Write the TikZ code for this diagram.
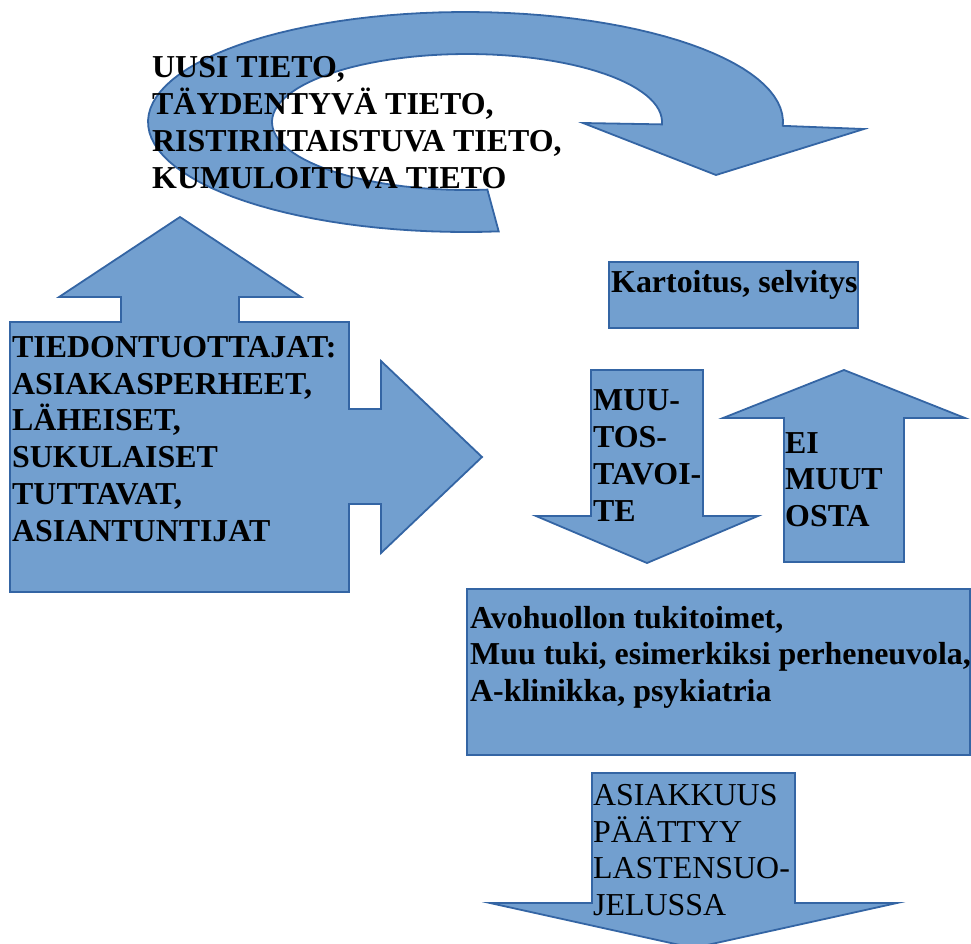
\documentclass[tikz,border=0pt]{standalone}
\usepackage{fontspec}
\setmainfont{Liberation Serif}
\definecolor{blkfill}{HTML}{729FCF}
\definecolor{blkline}{HTML}{3465A4}
\tikzset{
  blk/.style={fill=blkfill,draw=blkline,line width=1.8pt},
  lbl/.style={anchor=base west,inner sep=0pt,align=left,
    font=\fontsize{31.9}{36.7}\selectfont\bfseries},
}
\begin{document}
\begin{tikzpicture}[x=1pt,y=-1pt,line join=miter]
\useasboundingbox (0,0) rectangle (971,943);
\path (864,129) coordinate (HR)
      (716,175) coordinate (HT)
      (583,123) coordinate (HL)
      ;
% kaareva nuoli
\draw[blk] plot[domain=84:362,samples=90] ({465.5+317.5*cos(\x)},{122+110*sin(\x)})
  -- (HR) -- (HT) -- (HL)
  -- plot[domain=362:84,samples=90] ({467+195*cos(\x)},{122+68*sin(\x)}) -- cycle;
% tiedontuottajat
\draw[blk] (10,322) -- (121,322) -- (121,297) -- (59,297) -- (180,217)
  -- (301,297) -- (239,297) -- (239,322) -- (349,322) -- (349,409)
  -- (381,409) -- (381,361) -- (482,457) -- (381,553) -- (381,504)
  -- (349,504) -- (349,592) -- (10,592) -- cycle;
\draw[blk] (609,262) rectangle (858,328);
\draw[blk] (591,370) -- (703,370) -- (703,516) -- (758,516) -- (647,563)
  -- (536,516) -- (591,516) -- cycle;
\draw[blk] (784,562) -- (784,418) -- (723,418) -- (844,370) -- (965,418)
  -- (904,418) -- (904,562) -- cycle;
\draw[blk] (467,589) rectangle (970,755);
\draw[blk] (592,773) -- (795,773) -- (795,903) -- (897,903) -- (693.5,948)
  -- (490,903) -- (592,903) -- cycle;

% tekstit (base = viimeisen rivin peruslinja)
\node[lbl] (tieto) at (152,188) {UUSI TIETO,\\TÄYDENTYVÄ TIETO,\\RISTIRIITAISTUVA TIETO,\\KUMULOITUVA TIETO};
\node[lbl] (tuottajat) at (12,541) {TIEDONTUOTTAJAT:\\ASIAKASPERHEET,\\LÄHEISET,\\SUKULAISET\\TUTTAVAT,\\ASIANTUNTIJAT};
\node[lbl] (kartoitus) at (611,292.5) {Kartoitus, selvitys};
\node[lbl] (tavoite) at (593,521) {MUU-\\TOS-\\TAVOI-\\TE};
\node[lbl] (eimuutos) at (785,526.5) {EI\\MUUT\\OSTA};
\node[lbl] (avohuolto) at (470,701.5) {Avohuollon tukitoimet,\\Muu tuki, esimerkiksi perheneuvola,\\A-klinikka, psykiatria};
\node[lbl,font=\fontsize{31.9}{36.7}\selectfont] (paattyy) at (593,915.5) {ASIAKKUUS\\PÄÄTTYY\\LASTENSUO-\\JELUSSA};
\end{tikzpicture}
\end{document}
